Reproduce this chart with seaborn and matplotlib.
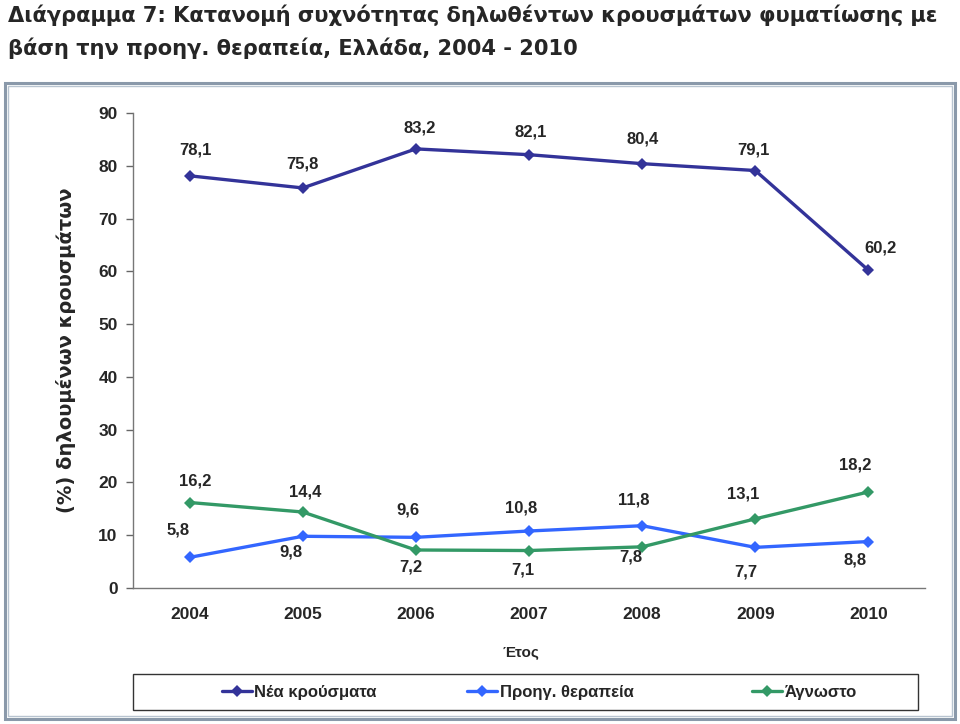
import numpy as np
import pandas as pd
import matplotlib
matplotlib.use("Agg")
import matplotlib.pyplot as plt
from matplotlib.patches import Rectangle
from matplotlib.lines import Line2D
from matplotlib.ticker import MultipleLocator
import seaborn as sns

# data
years = [2004, 2005, 2006, 2007, 2008, 2009, 2010]
series_names = ["Νέα κρούσματα", "Προηγ. θεραπεία", "Άγνωστο"]
new_cases = [78.1, 75.8, 83.2, 82.1, 80.4, 79.1, 60.2]
prev_treatment = [5.8, 9.8, 9.6, 10.8, 11.8, 7.7, 8.8]
unknown = [16.2, 14.4, 7.2, 7.1, 7.8, 13.1, 18.2]
colors = ["#333399", "#3366FF", "#339966"]

# label offsets in points (dx, dy)
off_new = [(4, 18.5), (0, 17), (3, 15), (1, 16.5), (0, 17.5), (-1.5, 15), (8.5, 16)]
off_prev = [(-8.5, 19.5), (-8.5, -11.5), (-6, 19.5), (-6, 16.5), (-6, 18.5), (-7, -17.5), (-9.5, -13)]
off_unk = [(4, 15.5), (1.5, 14.5), (-3.5, -12), (-4.5, -14), (-8.5, -7.5), (-8.5, 18), (-9.5, 19.5)]

df = pd.DataFrame({
    "year": years * 3,
    "value": new_cases + prev_treatment + unknown,
    "series": [s for s in series_names for _ in years],
})

sns.set_style("white")
plt.rcParams["font.family"] = ["DejaVu Sans"]

fig = plt.figure(figsize=(9.6, 7.24), dpi=100)

# title (two lines)
fig.text(8 / 960, 1 - 22 / 724,
         "Διάγραμμα 7: Κατανομή συχνότητας δηλωθέντων κρουσμάτων φυματίωσης με",
         ha="left", va="baseline", fontsize=15.1, fontweight="bold")
fig.text(8 / 960, 1 - 55 / 724,
         "βάση την προηγ. θεραπεία, Ελλάδα, 2004 - 2010",
         ha="left", va="baseline", fontsize=15.1, fontweight="bold")

# outer chart frame (double border)
fig.patches.append(Rectangle((5 / 960, 5 / 724), 950 / 960, 636 / 724,
                             transform=fig.transFigure, fill=False,
                             edgecolor="#8a99aa", linewidth=2.2))
fig.patches.append(Rectangle((8 / 960, 8 / 724), 944 / 960, 630 / 724,
                             transform=fig.transFigure, fill=False,
                             edgecolor="#b8c4d0", linewidth=1.0))

ax = fig.add_axes([133 / 960, 1 - 588 / 724, 792 / 960, 475 / 724])
sns.lineplot(data=df, x="year", y="value", hue="series", hue_order=series_names,
             palette=colors, marker="D", markersize=6.5, markeredgewidth=0,
             linewidth=2.4, ax=ax, legend=False)

ax.set_xlim(2003.5, 2010.5)
ax.set_ylim(0, 90)
ax.yaxis.set_major_locator(MultipleLocator(10))
ax.set_xticks(years)
ax.set_xticks(np.arange(2004.5, 2010, 1.0), minor=True)
ax.tick_params(axis="x", which="major", length=0, pad=14)
ax.tick_params(axis="x", which="minor", length=5, color="#666666", width=1)
ax.tick_params(axis="y", length=5, color="#666666", width=1, pad=6, left=True)
for lab in ax.get_xticklabels() + ax.get_yticklabels():
    lab.set_fontfamily("Liberation Sans")
    lab.set_fontweight("bold")
    lab.set_fontsize(12.5)

for side in ["top", "right"]:
    ax.spines[side].set_visible(False)
for side in ["left", "bottom"]:
    ax.spines[side].set_color("#777777")
    ax.spines[side].set_linewidth(1.0)

ax.set_xlabel("Έτος", fontsize=11, fontweight="bold", fontfamily="Liberation Sans")
ax.xaxis.set_label_coords((521 - 133) / 792, (588 - 645) / 475)
ax.set_ylabel("(%) δηλουμένων κρουσμάτων", fontsize=14, fontweight="bold")
ax.yaxis.set_label_coords((76 - 133) / 792, 0.5)

# data labels
for vals, offs in [(new_cases, off_new), (prev_treatment, off_prev), (unknown, off_unk)]:
    for x, v, (dx, dy) in zip(years, vals, offs):
        ax.annotate(f"{v:.1f}".replace(".", ","), (x, v), xytext=(dx, dy),
                    textcoords="offset points", ha="center", va="center",
                    fontsize=12, fontweight="bold", fontfamily="Liberation Sans")

# legend box
fig.patches.append(Rectangle((133 / 960, 1 - 710 / 724), 785 / 960, 36 / 724,
                             transform=fig.transFigure, fill=False,
                             edgecolor="#333333", linewidth=1.0))
entry_x = [222, 467, 752]
for c, name, ex in zip(colors, series_names, entry_x):
    h = Line2D([], [], color=c, marker="D", markersize=6, markeredgewidth=0, linewidth=2.4)
    fig.legend([h], [name], loc="center left", bbox_to_anchor=(ex / 960, 1 - 692 / 724),
               frameon=False, borderpad=0, borderaxespad=0, handlelength=1.8,
               handletextpad=0.15,
               prop={"family": "Liberation Sans", "weight": "bold", "size": 12})

fig.savefig("out.png", dpi=100)
